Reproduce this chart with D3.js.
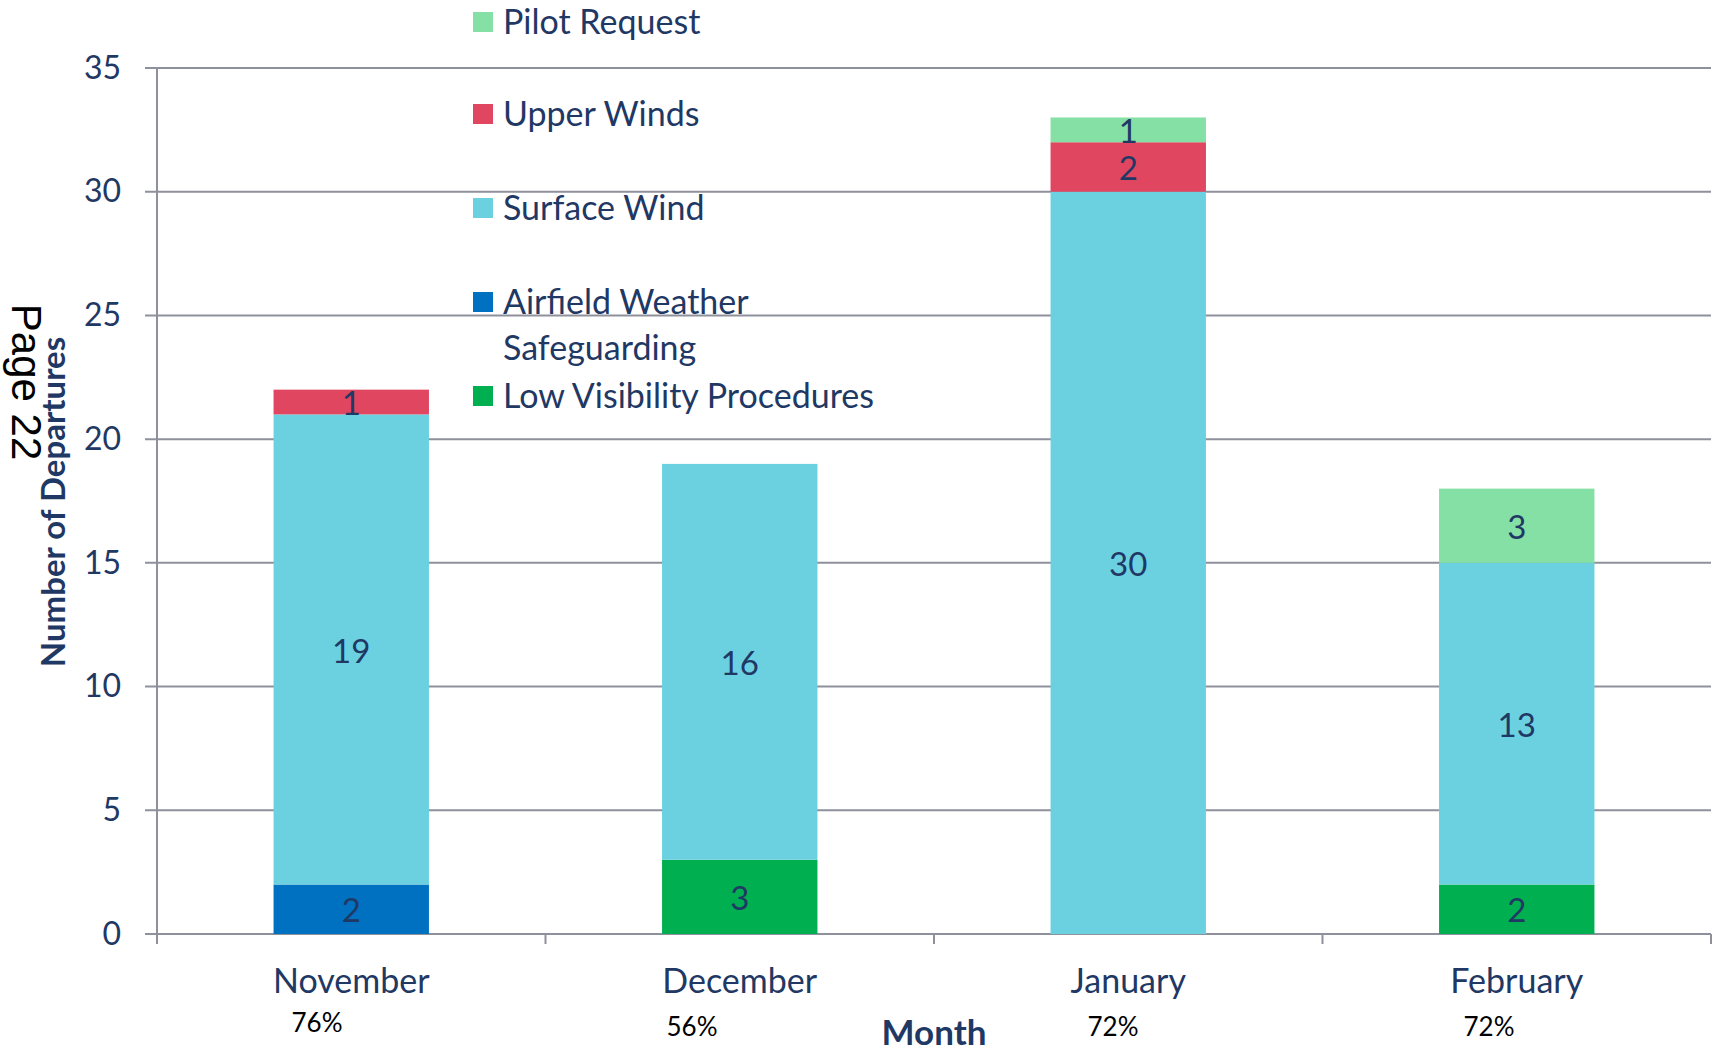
<!DOCTYPE html>
<html>
<head>
<meta charset="utf-8">
<script src="https://cdn.jsdelivr.net/npm/d3@7"></script>
<style>
  body { margin: 0; background: #fff; }
  text { font-family: Lato, "Open Sans", sans-serif; }
</style>
</head>
<body>
<div id="chart"></div>
<script>
// chart values
var months = ["November", "December", "January", "February"];
var percents = ["76%", "56%", "72%", "72%"];
var seriesNames = ["Low Visibility Procedures", "Airfield Weather Safeguarding", "Surface Wind", "Upper Winds", "Pilot Request"];
var lowVis = [0, 3, 0, 2];
var airfield = [2, 0, 0, 0];
var surfaceWind = [19, 16, 30, 13];
var upperWinds = [1, 0, 2, 0];
var pilotReq = [0, 0, 1, 3];
var yTicks = [0, 5, 10, 15, 20, 25, 30, 35];

var colors = ["#00B050", "#0070C0", "#6BD1E1", "#E04660", "#84E0A5"];
var navy = "#1F3864";

var width = 1713, height = 1052;
var plotLeft = 157, plotRight = 1711, plotTop = 68, plotBottom = 934;

var rows = months.map(function(m, i) {
  return { month: m, 0: lowVis[i], 1: airfield[i], 2: surfaceWind[i], 3: upperWinds[i], 4: pilotReq[i] };
});

var xScale = d3.scaleBand().domain(months).range([plotLeft, plotRight]).paddingInner(0.6).paddingOuter(0.3);
var yScale = d3.scaleLinear().domain([0, 35]).range([plotBottom, plotTop]);
var stack = d3.stack().keys([0, 1, 2, 3, 4]);

var svg = d3.select("#chart").append("svg")
  .attr("width", width)
  .attr("height", height);

// gridlines
svg.append("g")
  .selectAll("line")
  .data(yTicks)
  .enter().append("line")
  .attr("x1", plotLeft - 12)
  .attr("x2", plotRight)
  .attr("y1", function(d) { return yScale(d); })
  .attr("y2", function(d) { return yScale(d); })
  .attr("stroke", "#8E919C")
  .attr("stroke-width", 2);

// y axis labels
svg.append("g")
  .attr("transform", "translate(" + plotLeft + ",0)")
  .call(d3.axisLeft(yScale).tickValues(yTicks).tickSize(0).tickPadding(36))
  .call(function(g) { g.select(".domain").remove(); })
  .selectAll("text")
  .style("font-size", "32px")
  .style("font-family", "Lato")
  .attr("fill", navy);

svg.append("line")
  .attr("x1", plotLeft).attr("x2", plotLeft)
  .attr("y1", plotTop).attr("y2", plotBottom + 10)
  .attr("stroke", "#8E919C")
  .attr("stroke-width", 2);

// x category ticks
var step = (plotRight - plotLeft) / months.length;
d3.range(months.length + 1).forEach(function(i) {
  svg.append("line")
    .attr("x1", plotLeft + i * step).attr("x2", plotLeft + i * step)
    .attr("y1", plotBottom).attr("y2", plotBottom + 10)
    .attr("stroke", "#8E919C")
    .attr("stroke-width", 2);
});

// bars
var layer = svg.append("g").selectAll(".layer")
  .data(stack(rows))
  .enter().append("g")
  .attr("class", "layer")
  .attr("fill", function(d) { return colors[d.key]; });

layer.selectAll("rect")
  .data(function(d) { return d; })
  .enter().append("rect")
  .attr("x", function(d) { return xScale(d.data.month); })
  .attr("width", xScale.bandwidth())
  .attr("y", function(d) { return yScale(d[1]); })
  .attr("height", function(d) { return yScale(d[0]) - yScale(d[1]); });

layer.selectAll("text")
  .data(function(d) { return d.filter(function(s) { return s[1] - s[0] > 0; }); })
  .enter().append("text")
  .attr("x", function(d) { return xScale(d.data.month) + xScale.bandwidth() / 2; })
  .attr("y", function(d) { return yScale((d[0] + d[1]) / 2); })
  .attr("dy", "0.4em")
  .attr("text-anchor", "middle")
  .attr("fill", navy)
  .style("font-size", "33px")
  .text(function(d) { return d[1] - d[0]; });

// month labels
svg.append("g").selectAll("text")
  .data(months)
  .enter().append("text")
  .attr("x", function(d) { return xScale(d) + xScale.bandwidth() / 2; })
  .attr("y", 993)
  .attr("text-anchor", "middle")
  .attr("fill", navy)
  .style("font-size", "34px")
  .text(function(d) { return d; });

// percentages under months
var pctX = [317, 692, 1113, 1489];
var pctY = [1032, 1036, 1036, 1036];
percents.forEach(function(p, i) {
  svg.append("text")
    .attr("x", pctX[i])
    .attr("y", pctY[i])
    .attr("text-anchor", "middle")
    .attr("fill", "#000")
    .style("font-size", "26px")
    .text(p);
});

// axis titles
svg.append("text")
  .attr("x", 934)
  .attr("y", 1045)
  .attr("text-anchor", "middle")
  .attr("fill", navy)
  .style("font-size", "35px")
  .style("font-weight", 700)
  .text("Month");

svg.append("text")
  .attr("transform", "translate(65,502) rotate(-90)")
  .attr("text-anchor", "middle")
  .attr("fill", navy)
  .style("font-size", "33px")
  .style("font-weight", 700)
  .text("Number of Departures");

svg.append("text")
  .attr("transform", "translate(12,382) rotate(90)")
  .attr("text-anchor", "middle")
  .attr("fill", "#000")
  .style("font-family", "Liberation Sans")
  .style("font-size", "42px")
  .text("Page 22");

// legend
var legendItems = [
  { key: 4, y: 22, lines: ["Pilot Request"] },
  { key: 3, y: 114, lines: ["Upper Winds"] },
  { key: 2, y: 208, lines: ["Surface Wind"] },
  { key: 1, y: 302, lines: ["Airfield Weather", "Safeguarding"] },
  { key: 0, y: 396, lines: ["Low Visibility Procedures"] }
];
legendItems.forEach(function(it) {
  svg.append("rect")
    .attr("x", 473)
    .attr("y", it.y - 10)
    .attr("width", 20)
    .attr("height", 20)
    .attr("fill", colors[it.key]);
  it.lines.forEach(function(l, j) {
    svg.append("text")
      .attr("x", 503)
      .attr("y", it.y + j * 46)
      .attr("dy", "0.36em")
      .attr("fill", navy)
      .style("font-size", "34px")
      .text(l);
  });
});
</script>
</body>
</html>
